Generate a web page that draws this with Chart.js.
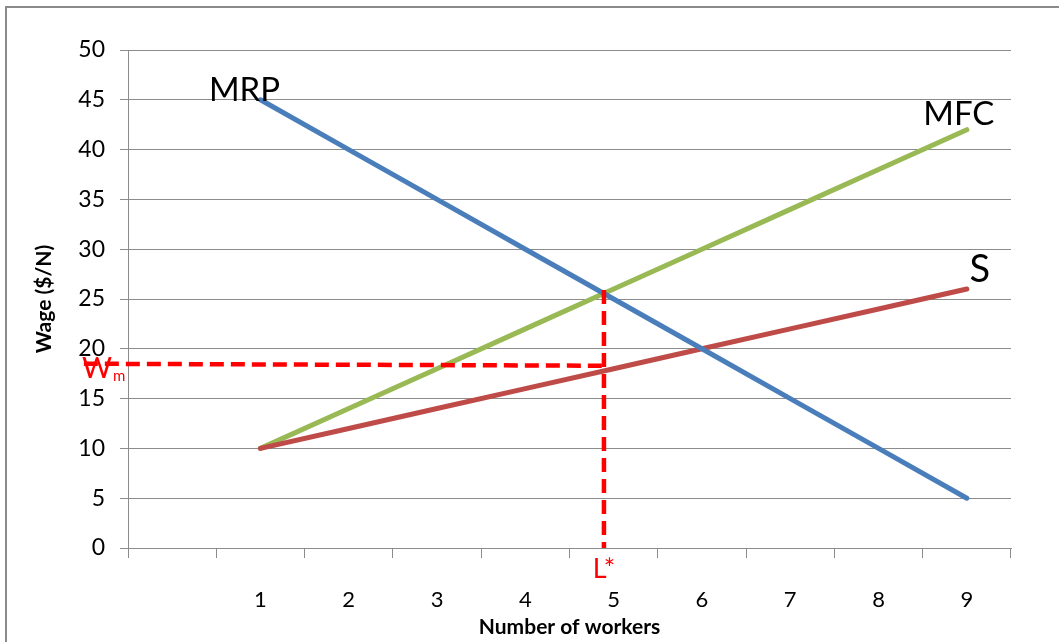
<!DOCTYPE html>
<html>
<head>
<meta charset="utf-8">
<script src="https://cdn.jsdelivr.net/npm/chart.js@4/dist/chart.umd.min.js"></script>
<style>
  html, body { margin: 0; padding: 0; background: #fff; overflow: hidden; }
  #wrap { position: relative; width: 1059px; height: 642px; }
  #frame { position: absolute; left: 5px; top: 6px; right: -10px; bottom: -10px;
           border-top: 2px solid #8a8a8a; border-left: 2px solid #8a8a8a; pointer-events: none; }
</style>
</head>
<body>
<div id="wrap">
  <canvas id="labourChart" width="1059" height="642"></canvas>
  <div id="frame"></div>
</div>
<script>
// chart data
const workers = [1, 2, 3, 4, 5, 6, 7, 8, 9];
const mrp = [45, 40, 35, 30, 25, 20, 15, 10, 5];
const mfc = [10, 14, 18, 22, 26, 30, 34, 38, 42];
const supply = [10, 12, 14, 16, 18, 20, 22, 24, 26];
const workerLabels = ['', '1', '2', '3', '4', '5', '6', '7', '8', '9'];
const wageTicks = [0, 5, 10, 15, 20, 25, 30, 35, 40, 45, 50];

// dashed guides: L* and Wm
const wmGuideX = [-1.0, 4.87];
const wmGuideY = [18.5, 18.3];
const lStarGuideX = [4.89, 4.89];
const lStarGuideY = [25.9, 0];

const pts = (xs, ys) => xs.map((x, i) => ({ x: x, y: ys[i] }));

const FONT = 'Lato, "Open Sans", sans-serif';
const GRID = '#8c8c8c';

// curve names and the red guide labels
const curveLabels = {
    id: 'curveLabels',
    afterDatasetsDraw(chart) {
        const { ctx, scales: { x, y } } = chart;
        ctx.save();
        ctx.textBaseline = 'alphabetic';
        ctx.textAlign = 'center';
        ctx.fillStyle = '#000';
        ctx.font = '33px ' + FONT;
        ctx.fillText('MRP', x.getPixelForValue(workers[0]) - 16, y.getPixelForValue(mrp[0]) + 1);
        ctx.fillText('MFC', x.getPixelForValue(workers[8]) - 8, y.getPixelForValue(mfc[8]) - 5);
        ctx.font = '38px ' + FONT;
        ctx.fillText('S', x.getPixelForValue(workers[8]) + 13, y.getPixelForValue(supply[8]) - 7);

        ctx.fillStyle = '#ff0000';
        ctx.font = '27px ' + FONT;
        ctx.fillText('L*', x.getPixelForValue(lStarGuideX[0]), y.getPixelForValue(0) + 30);
        ctx.textAlign = 'left';
        const wx = 82, wy = y.getPixelForValue(wmGuideY[0]) + 14;
        ctx.font = '29px ' + FONT;
        ctx.fillText('W', wx, wy);
        const ww = ctx.measureText('W').width;
        ctx.font = '15px ' + FONT;
        ctx.fillText('m', wx + ww + 1, wy + 3);
        ctx.restore();
    }
};

const guideStyle = {
    borderColor: '#ff0000',
    borderWidth: 4.5,
    borderDash: [14, 7],
    pointRadius: 0,
    fill: false,
    clip: false
};

const curveStyle = { borderWidth: 5, borderCapStyle: 'round', pointRadius: 0, tension: 0 };

new Chart(document.getElementById('labourChart'), {
    type: 'line',
    data: {
        datasets: [
            Object.assign({ label: 'Wm', data: pts(wmGuideX, wmGuideY) }, guideStyle),
            Object.assign({ label: 'L*', data: pts(lStarGuideX, lStarGuideY) }, guideStyle),
            Object.assign({ label: 'MRP', data: pts(workers, mrp), borderColor: '#4a7ebb' }, curveStyle),
            Object.assign({ label: 'S', data: pts(workers, supply), borderColor: '#be4b48' }, curveStyle),
            Object.assign({ label: 'MFC', data: pts(workers, mfc), borderColor: '#98b954' }, curveStyle)
        ]
    },
    options: {
        responsive: false,
        animation: false,
        layout: { padding: { top: 50, right: 48, left: 0, bottom: 0 } },
        plugins: { legend: { display: false }, tooltip: { enabled: false } },
        scales: {
            x: {
                type: 'linear',
                min: -0.5,
                max: 9.5,
                afterBuildTicks: s => { s.ticks = workerLabels.map((l, i) => ({ value: i })); },
                afterFit: s => { s.height = 94; },
                grid: { offset: true, drawOnChartArea: false, drawTicks: true, tickLength: 10, color: GRID },
                border: { color: GRID },
                ticks: {
                    padding: 29,
                    color: '#000',
                    font: { family: FONT, size: 22 },
                    callback: (v, i) => workerLabels[i]
                },
                title: {
                    display: true,
                    text: 'Number of workers',
                    color: '#000',
                    font: { family: FONT, size: 21, weight: 'bold' },
                    padding: { top: 0, bottom: 2 }
                }
            },
            y: {
                min: 0,
                max: 50,
                afterBuildTicks: s => { s.ticks = wageTicks.map(v => ({ value: v })); },
                afterFit: s => { s.width = 128; },
                grid: { color: GRID, tickLength: 8 },
                border: { color: GRID },
                ticks: {
                    padding: 15,
                    color: '#000',
                    font: { family: FONT, size: 23 }
                },
                title: {
                    display: true,
                    text: 'Wage ($/N)',
                    color: '#000',
                    font: { family: FONT, size: 21, weight: 'bold' },
                    padding: { top: 32, bottom: 0 }
                }
            }
        }
    },
    plugins: [curveLabels]
});
</script>
</body>
</html>
